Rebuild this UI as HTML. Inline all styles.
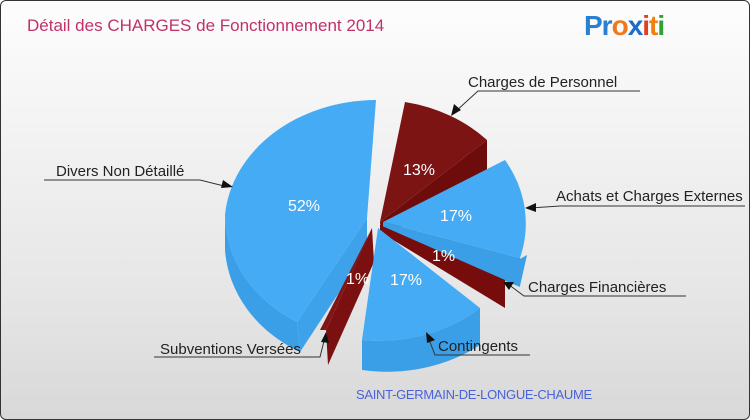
<!DOCTYPE html>
<html><head><meta charset="utf-8"><style>
body{margin:0}
.w{width:748px;height:418px;border:1px solid #333;border-radius:6px;background:linear-gradient(#fdfdfd,#e6e6e6 70%,#d8d8d8);position:relative;overflow:hidden;font-family:"DejaVu Sans","Liberation Sans",sans-serif}
</style></head><body><div class="w">
<svg width="750" height="420" style="position:absolute;left:-1px;top:-1px">
<text x="27" y="31" font-size="17" fill="#c2306a" font-family="Liberation Sans, sans-serif">Détail des CHARGES de Fonctionnement 2014</text>
<text x="584" y="35" font-family="Liberation Sans, sans-serif" font-size="28" font-weight="bold" letter-spacing="-1"><tspan fill="#2a7fd0">Pr</tspan><tspan fill="#f07818">o</tspan><tspan fill="#1a6ec8">x</tspan><tspan fill="#e04020">i</tspan><tspan fill="#f08010">t</tspan><tspan fill="#30a030">i</tspan></text>
<!-- 52% -->
<path d="M225,215 A145,125 0 0 0 297,322 L300,352 A145,125 0 0 1 225,250 Z" fill="#3a9fe6"/>
<path d="M297,322 L367,218 L367,250 L300,352 Z" fill="#3ea2ea"/>
<path d="M367,218 L376,100 A152,125 0 0 0 225,215 A145,125 0 0 0 297,322 Z" fill="#44abf4"/>
<!-- 1% left -->
<path d="M372,228 L326,330 L328,365 L374,262 Z" fill="#7a1010"/>
<path d="M372,228 L326,330 L320,330 Z" fill="#801515"/>
<!-- 13% -->
<path d="M487,140 L487,172 L382,240 L380,222 Z" fill="#6e0c0c"/>
<path d="M380,222 L405,102 A150,125 0 0 1 487,140 Z" fill="#7c1414"/>
<!-- 17% right -->
<path d="M527,255 L520,286 L518,260 Z" fill="#3a9fe6"/>
<path d="M383,222 L520,258 L520,287 L383,232 Z" fill="#3a9fe6"/>
<path d="M383,222 L505,160 A150,125 0 0 1 520,258 Z" fill="#44abf4"/>
<!-- 1% right red -->
<path d="M380,225 L505,280 L505,308 L380,232 Z" fill="#760c0c"/>
<!-- 17% bottom -->
<path d="M362,340 A150,125 0 0 0 480,308 L480,345 A150,125 0 0 1 362,370 Z" fill="#3a9fe6"/>
<path d="M378,228 L362,340 A150,125 0 0 0 480,308 Z" fill="#44abf4"/>
<g fill="#fff" font-size="16" font-family="Liberation Sans, sans-serif">
<text x="288" y="211">52%</text><text x="403" y="175">13%</text><text x="440" y="221">17%</text><text x="432" y="261">1%</text><text x="390" y="285">17%</text><text x="346" y="284">1%</text></g>
<g stroke="#333" fill="none" stroke-width="1">
<polyline points="44,180 200,180 228,187"/>
<polyline points="640,91 478,91 455,112"/>
<polyline points="745,206 560,206 530,208"/>
<polyline points="686,296 524,296 508,284"/>
<polyline points="530,355 435,355 428,337"/>
<polyline points="154,357 320,357 325,337"/>
</g>
<g fill="#111">
<path d="M233,187 l-10,-7 l-2,8 Z"/><path d="M451,116 l3,-12 l7,6 Z"/><path d="M525,208 l11,-5 l0,9 Z"/><path d="M503,282 l11,0 l-5,8 Z"/><path d="M426,332 l9,8 l-8,3 Z"/><path d="M326,332 l3,11 l-8,-1 Z"/>
</g>
<g fill="#222" font-size="15" font-family="Liberation Sans, sans-serif">
<text x="56" y="176">Divers Non Détaillé</text>
<text x="468" y="87">Charges de Personnel</text>
<text x="556" y="201">Achats et Charges Externes</text>
<text x="528" y="292">Charges Financières</text>
<text x="438" y="351">Contingents</text>
<text x="160" y="354">Subventions Versées</text>
</g>
<text x="356" y="399" font-size="13" fill="#4a62d8" font-family="Liberation Sans, sans-serif" letter-spacing="-0.3">SAINT-GERMAIN-DE-LONGUE-CHAUME</text>
</svg></div></body></html>
